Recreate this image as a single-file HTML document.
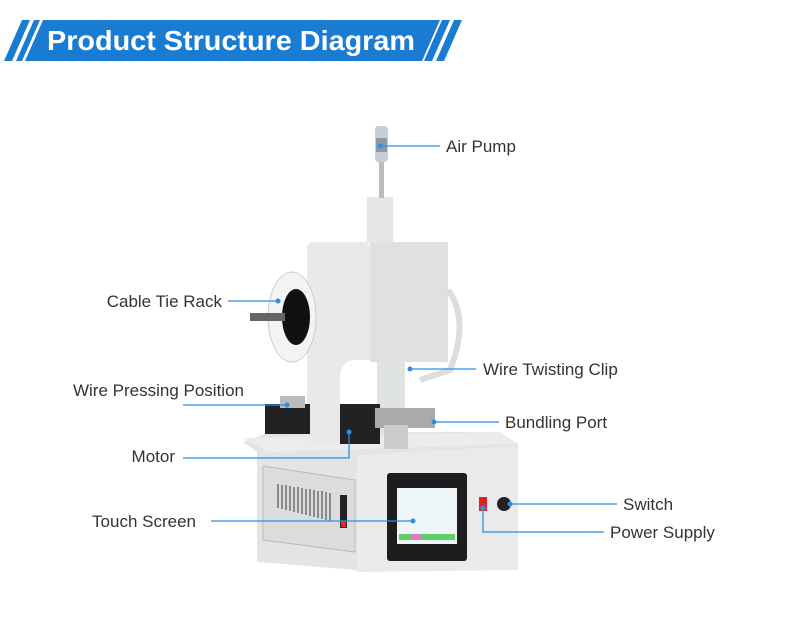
<!DOCTYPE html>
<html><head><meta charset="utf-8"><style>
html,body{margin:0;padding:0;background:#fff;}
svg{display:block;}
text{font-family:"Liberation Sans",sans-serif;}
</style></head><body>
<svg width="790" height="632" viewBox="0 0 790 632" xmlns="http://www.w3.org/2000/svg">
<!-- banner -->
<polygon points="43,20 440,20 422,61 25,61" fill="#1a7bd3"/>
<polygon points="22,20 30,20 12,61 4,61" fill="#1a7bd3"/>
<polygon points="34,20 40,20 22,61 16,61" fill="#1a7bd3"/>
<polygon points="442,20 450,20 432,61 424,61" fill="#1a7bd3"/>
<polygon points="454,20 462,20 444,61 436,61" fill="#1a7bd3"/>
<text x="47" y="50" font-size="28" font-weight="bold" fill="#fff" textLength="368" lengthAdjust="spacingAndGlyphs">Product Structure Diagram</text>

<!-- base -->
<polygon points="243,442 270,432 500,432 518,444 518,570 357,570 257,562 257,452" fill="#e4e4e4"/>
<polygon points="243,438 500,432 518,444 268,452" fill="#ececec"/>
<polygon points="357,455 518,446 518,570 357,572" fill="#eaeaea"/>
<polygon points="263,466 355,480 355,552 263,540" fill="#dcdcdc" stroke="#bbb"/>
<g stroke="#555" stroke-width="1.2">
<line x1="278" y1="484" x2="278" y2="508"/><line x1="282" y1="485" x2="282" y2="509"/><line x1="286" y1="485" x2="286" y2="510"/><line x1="290" y1="486" x2="290" y2="511"/><line x1="294" y1="487" x2="294" y2="512"/><line x1="298" y1="487" x2="298" y2="513"/><line x1="302" y1="488" x2="302" y2="514"/><line x1="306" y1="489" x2="306" y2="515"/><line x1="310" y1="489" x2="310" y2="516"/><line x1="314" y1="490" x2="314" y2="517"/><line x1="318" y1="491" x2="318" y2="518"/><line x1="322" y1="491" x2="322" y2="519"/><line x1="326" y1="492" x2="326" y2="520"/><line x1="330" y1="493" x2="330" y2="521"/>
</g>
<rect x="340" y="495" width="7" height="33" fill="#222"/><rect x="341" y="521" width="5" height="6" fill="#e22"/>
<!-- screen -->
<rect x="387" y="473" width="80" height="88" rx="3" fill="#1d1d1d"/>
<rect x="397" y="488" width="60" height="56" fill="#eef5f8"/>
<rect x="399" y="534" width="56" height="6" fill="#5fcf6b"/>
<rect x="412" y="534" width="9" height="6" fill="#e579c9"/>
<rect x="479" y="497" width="8" height="14" fill="#d22"/>
<circle cx="504" cy="504" r="7" fill="#222"/>

<!-- column & head -->
<rect x="307" y="242" width="63" height="200" rx="6" fill="#e9e9e9"/>
<rect x="370" y="242" width="78" height="120" fill="#e0e0e0"/>
<path d="M340,440 L340,380 Q340,360 355,360 L370,360 L370,440 Z" fill="#fff"/>
<rect x="377" y="362" width="28" height="70" fill="#dfe4e0"/>
<path d="M448,290 Q470,320 450,370 L420,380" stroke="#ddd" stroke-width="6" fill="none"/>
<rect x="367" y="197" width="26" height="46" fill="#e6e6e6"/>
<rect x="379" y="160" width="5" height="38" fill="#bbb"/>
<rect x="375" y="126" width="13" height="36" rx="3" fill="#c9ced4"/>
<rect x="376" y="138" width="11" height="14" fill="#8a99a8"/>
<!-- reel -->
<ellipse cx="292" cy="317" rx="24" ry="45" fill="#f3f3f3" stroke="#ccc"/>
<ellipse cx="296" cy="317" rx="14" ry="28" fill="#111"/>
<rect x="250" y="313" width="35" height="8" fill="#666"/>
<!-- rail/work area -->
<rect x="265" y="404" width="45" height="30" fill="#222"/>
<rect x="280" y="396" width="25" height="12" fill="#bbb"/>
<rect x="340" y="404" width="40" height="40" fill="#222"/>
<rect x="375" y="408" width="60" height="20" fill="#aaa"/>
<rect x="384" y="425" width="24" height="24" fill="#ccc"/>

<!-- connectors -->
<g stroke="#2f8ee8" stroke-width="1.3" fill="none">
<line x1="380" y1="146" x2="440" y2="146"/>
<line x1="228" y1="301" x2="278" y2="301"/>
<line x1="410" y1="369" x2="476" y2="369"/>
<line x1="183" y1="405" x2="287" y2="405"/>
<polyline points="183,458 349,458 349,432"/>
<line x1="211" y1="521" x2="413" y2="521"/>
<line x1="434" y1="422" x2="499" y2="422"/>
<line x1="510" y1="504" x2="617" y2="504"/>
<polyline points="483,508 483,532 604,532"/>
</g>
<g fill="#2f8ee8">
<circle cx="380" cy="146" r="2.5"/><circle cx="278" cy="301" r="2.5"/><circle cx="410" cy="369" r="2.5"/>
<circle cx="287" cy="405" r="2.5"/><circle cx="349" cy="432" r="2.5"/><circle cx="413" cy="521" r="2.5"/>
<circle cx="434" cy="422" r="2.5"/><circle cx="510" cy="504" r="2.5"/><circle cx="483" cy="508" r="2.5"/>
</g>
<g font-size="17" fill="#333">
<text x="446" y="152">Air Pump</text>
<text x="222" y="307" text-anchor="end">Cable Tie Rack</text>
<text x="483" y="375">Wire Twisting Clip</text>
<text x="244" y="396" text-anchor="end">Wire Pressing Position</text>
<text x="505" y="428">Bundling Port</text>
<text x="175" y="462" text-anchor="end">Motor</text>
<text x="623" y="510">Switch</text>
<text x="196" y="527" text-anchor="end">Touch Screen</text>
<text x="610" y="538">Power Supply</text>
</g>
</svg>
</body></html>
